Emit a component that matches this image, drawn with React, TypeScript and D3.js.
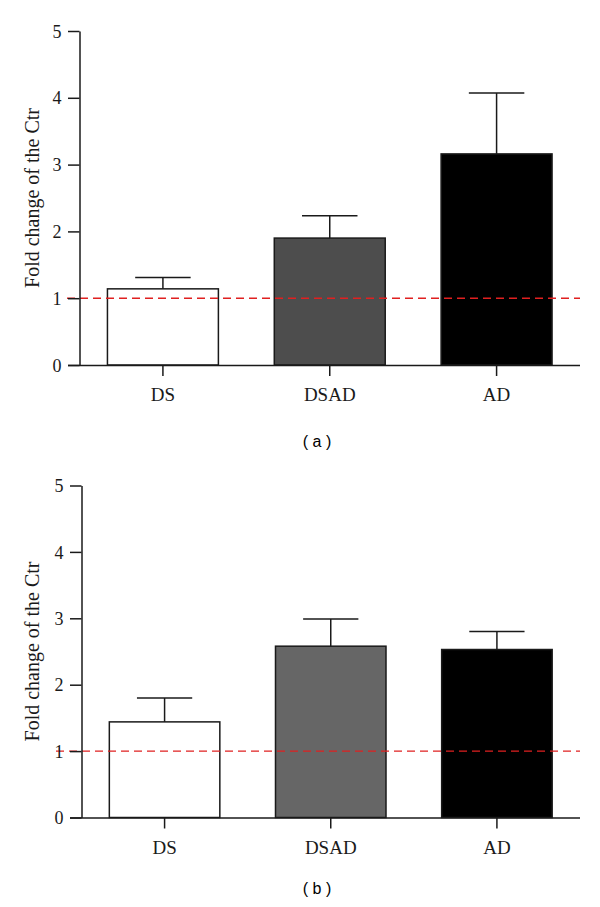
import React, { useEffect, useRef } from 'react';
import * as d3 from 'd3';

// groups on the x axis
const categories = ['DS', 'DSAD', 'AD'];

// panel (a)
const meansA = [1.14, 1.9, 3.16];
const errA = [0.17, 0.335, 0.91];
const fillsA = ['#ffffff', '#4d4d4d', '#000000'];

// panel (b)
const meansB = [1.44, 2.58, 2.53];
const errB = [0.36, 0.41, 0.27];
const fillsB = ['#ffffff', '#666666', '#000000'];

const yTicks = [0, 1, 2, 3, 4, 5];
const refLine = 1;
const yLabel = 'Fold change of the Ctr';

const W = 600;
const H = 907;
const serif = '"Liberation Serif", "Times New Roman", serif';
const ink = '#1a1a1a';

type PanelCfg = {
  top: number;
  bottom: number;
  left: number;
  right: number;
  dashStart: number;
  means: number[];
  errs: number[];
  fills: string[];
  caption: string;
  captionY: number;
};

const panels: PanelCfg[] = [
  { top: 31, bottom: 365, left: 79.5, right: 580, dashStart: 67, means: meansA, errs: errA, fills: fillsA, caption: '( a )', captionY: 441 },
  { top: 485.5, bottom: 817.5, left: 81.5, right: 580, dashStart: 56, means: meansB, errs: errB, fills: fillsB, caption: '( b )', captionY: 888 },
];

const App = () => {
  const ref = useRef<SVGSVGElement>(null);

  useEffect(() => {
    const svg = d3.select(ref.current);
    svg.selectAll('*').remove();

    panels.forEach((p) => {
      const g = svg.append('g');

      const y = d3.scaleLinear().domain([0, 5]).range([p.bottom, p.top]);
      const x = d3
        .scaleBand()
        .domain(categories)
        .range([p.left, p.right])
        .paddingInner(0.335)
        .paddingOuter(0.1675);

      // bars
      g.selectAll('rect.bar')
        .data(categories)
        .enter()
        .append('rect')
        .attr('class', 'bar')
        .attr('x', (d) => x(d)!)
        .attr('y', (d, i) => y(p.means[i]))
        .attr('width', x.bandwidth())
        .attr('height', (d, i) => p.bottom - y(p.means[i]))
        .attr('fill', (d, i) => p.fills[i])
        .attr('stroke', ink)
        .attr('stroke-width', 1.5);

      // error bars (upper only)
      const capHalf = x.bandwidth() / 4;
      categories.forEach((c, i) => {
        const cx = x(c)! + x.bandwidth() / 2;
        const yTop = y(p.means[i] + p.errs[i]);
        g.append('line')
          .attr('x1', cx).attr('x2', cx)
          .attr('y1', y(p.means[i])).attr('y2', yTop)
          .attr('stroke', ink).attr('stroke-width', 1.5);
        g.append('line')
          .attr('x1', cx - capHalf).attr('x2', cx + capHalf)
          .attr('y1', yTop).attr('y2', yTop)
          .attr('stroke', ink).attr('stroke-width', 1.5);
      });

      // dashed reference line
      g.append('line')
        .attr('x1', p.dashStart)
        .attr('x2', p.right)
        .attr('y1', y(refLine))
        .attr('y2', y(refLine))
        .attr('stroke', '#e02020')
        .attr('stroke-width', 1.4)
        .attr('stroke-dasharray', '8,5');

      // y axis
      const yAxis = g
        .append('g')
        .attr('transform', `translate(${p.left},0)`)
        .call(d3.axisLeft(y).tickValues(yTicks).tickFormat(d3.format('d')).tickSize(11.5).tickSizeOuter(0));
      yAxis.select('.domain').attr('stroke', ink).attr('stroke-width', 1.5);
      yAxis.selectAll('.tick line').attr('stroke', ink).attr('stroke-width', 1.5);
      yAxis
        .selectAll('.tick text')
        .attr('x', -18)
        .attr('dy', '0.34em')
        .attr('font-family', serif)
        .attr('font-size', 18)
        .attr('fill', ink);

      // x axis
      const xAxis = g
        .append('g')
        .attr('transform', `translate(0,${p.bottom})`)
        .call(d3.axisBottom(x).tickSize(11).tickSizeOuter(0));
      xAxis.select('.domain').attr('stroke', ink).attr('stroke-width', 1.5)
        .attr('d', `M${p.left - 11.5},0.5H${p.right}`);
      xAxis.selectAll('.tick line').attr('stroke', ink).attr('stroke-width', 1.5);
      xAxis
        .selectAll('.tick text')
        .attr('y', 36)
        .attr('dy', 0)
        .attr('font-family', serif)
        .attr('font-size', 19)
        .attr('fill', ink);

      // y label
      g.append('text')
        .attr('transform', `translate(39,${(p.top + p.bottom) / 2}) rotate(-90)`)
        .attr('text-anchor', 'middle')
        .attr('font-family', serif)
        .attr('font-size', 20)
        .attr('fill', ink)
        .text(yLabel);

      // caption
      g.append('text')
        .attr('x', 317)
        .attr('y', p.captionY)
        .attr('text-anchor', 'middle')
        .attr('dy', '0.35em')
        .attr('font-family', '"Liberation Sans", Arial, sans-serif')
        .attr('font-size', 16)
        .attr('fill', '#000')
        .text(p.caption);
    });
  }, []);

  return (
    <svg
      ref={ref}
      width={W}
      height={H}
      style={{ position: 'absolute', left: 0, top: 0, background: '#fff' }}
    ></svg>
  );
};

export default App;
